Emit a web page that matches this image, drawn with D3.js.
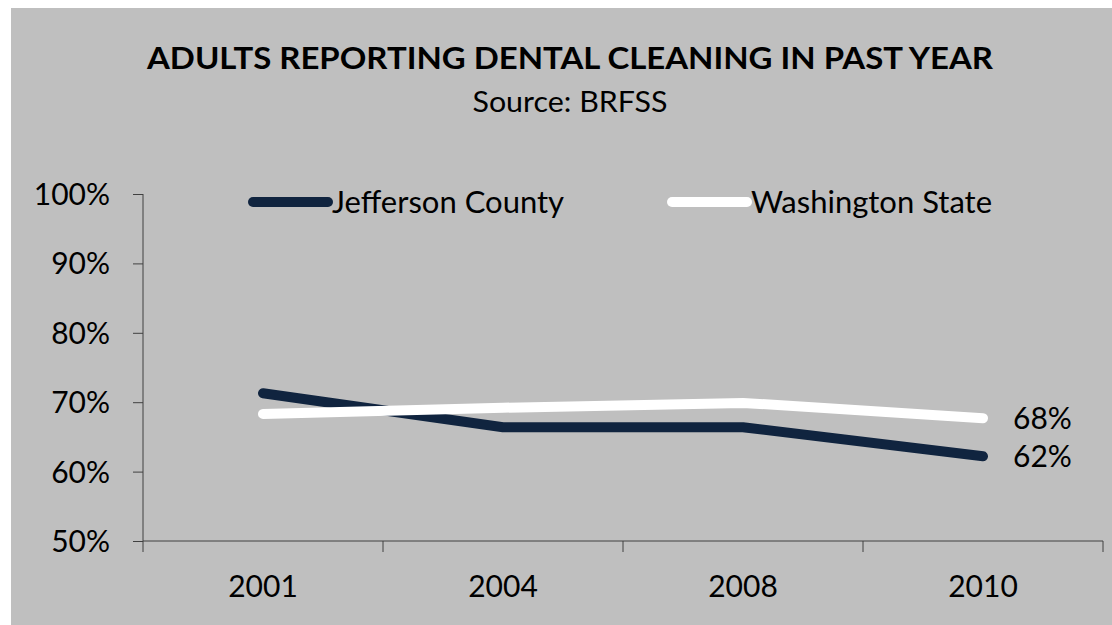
<!DOCTYPE html>
<html lang="en">
<head>
  <meta charset="UTF-8" />
  <title>Adults Reporting Dental Cleaning</title>
  <script src="https://d3js.org/d3.v7.min.js"></script>
  <style>
    * { margin: 0; padding: 0; box-sizing: border-box; }
    body { background: #fff; width: 1112px; height: 625px; overflow: hidden; }
    svg { display: block; font-family: Lato, 'Open Sans', sans-serif; }
  </style>
</head>
<body>
  <svg id="chart" width="1112" height="625"></svg>

  <script>
    const years = ['2001', '2004', '2008', '2010'];
    const jefferson = [0.713, 0.664, 0.664, 0.622];
    const washington = [0.683, 0.692, 0.699, 0.677];
    const yTicks = [0.5, 0.6, 0.7, 0.8, 0.9, 1.0];

    const series = [
      { name: 'Jefferson County', values: jefferson, color: '#10243f' },
      { name: 'Washington State', values: washington, color: '#ffffff' }
    ];

    const svg = d3.select('#chart');

    // grey chart area
    svg.append('rect')
      .attr('x', 11).attr('y', 8)
      .attr('width', 1112 - 11).attr('height', 625 - 8)
      .attr('fill', '#bfbfbf');

    const x = d3.scaleBand().domain(years).range([143, 1103]).paddingInner(0).paddingOuter(0);
    const y = d3.scaleLinear().domain([0.5, 1]).range([541, 194]);

    // title
    svg.append('text')
      .attr('x', 570).attr('y', 69)
      .attr('text-anchor', 'middle')
      .attr('font-size', 31).attr('font-weight', 700)
      .attr('textLength', 846).attr('lengthAdjust', 'spacingAndGlyphs')
      .attr('fill', '#000')
      .text('ADULTS REPORTING DENTAL CLEANING IN PAST YEAR');

    svg.append('text')
      .attr('x', 570).attr('y', 112)
      .attr('text-anchor', 'middle')
      .attr('font-size', 28)
      .attr('textLength', 195).attr('lengthAdjust', 'spacingAndGlyphs')
      .attr('fill', '#000')
      .text('Source: BRFSS');

    // y axis
    const yAxis = d3.axisLeft(y)
      .tickValues(yTicks)
      .tickFormat(d3.format('.0%'))
      .tickSize(10)
      .tickPadding(23);

    const gy = svg.append('g').attr('transform', 'translate(143,0)').call(yAxis);
    gy.select('.domain').attr('stroke', '#404040').attr('d', `M0,${y(1)}V${y(0.5)}`);
    gy.selectAll('.tick line').attr('stroke', '#404040');
    gy.selectAll('.tick text')
      .attr('font-size', 30).attr('fill', '#000')
      .attr('font-family', 'Lato, sans-serif')
      .attr('dy', '0.35em');

    // x axis: ticks at category boundaries, labels at band centers
    const gx = svg.append('g').attr('transform', `translate(0,${y(0.5)})`);
    gx.append('line')
      .attr('x1', x.range()[0]).attr('x2', x.range()[1])
      .attr('stroke', '#404040');
    const edges = years.map(d => x(d)).concat([x.range()[1]]);
    gx.selectAll('line.tick').data(edges).enter().append('line')
      .attr('class', 'tick')
      .attr('x1', d => d).attr('x2', d => d)
      .attr('y1', 0).attr('y2', 11)
      .attr('stroke', '#404040');
    gx.selectAll('text').data(years).enter().append('text')
      .attr('x', d => x(d) + x.bandwidth() / 2)
      .attr('y', 56)
      .attr('text-anchor', 'middle')
      .attr('font-size', 30).attr('fill', '#000')
      .text(d => d);

    // lines
    const line = d3.line()
      .x((d, i) => x(years[i]) + x.bandwidth() / 2)
      .y(d => y(d));

    svg.selectAll('path.series').data(series).enter().append('path')
      .attr('class', 'series')
      .attr('d', d => line(d.values))
      .attr('fill', 'none')
      .attr('stroke', d => d.color)
      .attr('stroke-width', 10)
      .attr('stroke-linecap', 'round')
      .attr('stroke-linejoin', 'round');

    // end labels
    const last = years.length - 1;
    svg.selectAll('text.endlabel').data(series).enter().append('text')
      .attr('class', 'endlabel')
      .attr('x', x(years[last]) + x.bandwidth() / 2 + 30)
      .attr('y', d => y(d.values[last]))
      .attr('dy', '0.35em')
      .attr('font-size', 30).attr('fill', '#000')
      .text(d => d3.format('.0%')(d.values[last]));

    // legend
    const legendX = [253, 672];
    const lg = svg.selectAll('g.legend').data(series).enter().append('g')
      .attr('class', 'legend')
      .attr('transform', (d, i) => `translate(${legendX[i]},202)`);
    lg.append('line')
      .attr('x1', 0).attr('x2', 75)
      .attr('stroke', d => d.color)
      .attr('stroke-width', 10)
      .attr('stroke-linecap', 'round');
    lg.append('text')
      .attr('x', 79).attr('y', 0).attr('dy', '0.35em')
      .attr('font-size', 31).attr('fill', '#000')
      .text(d => d.name);
  </script>
</body>
</html>
